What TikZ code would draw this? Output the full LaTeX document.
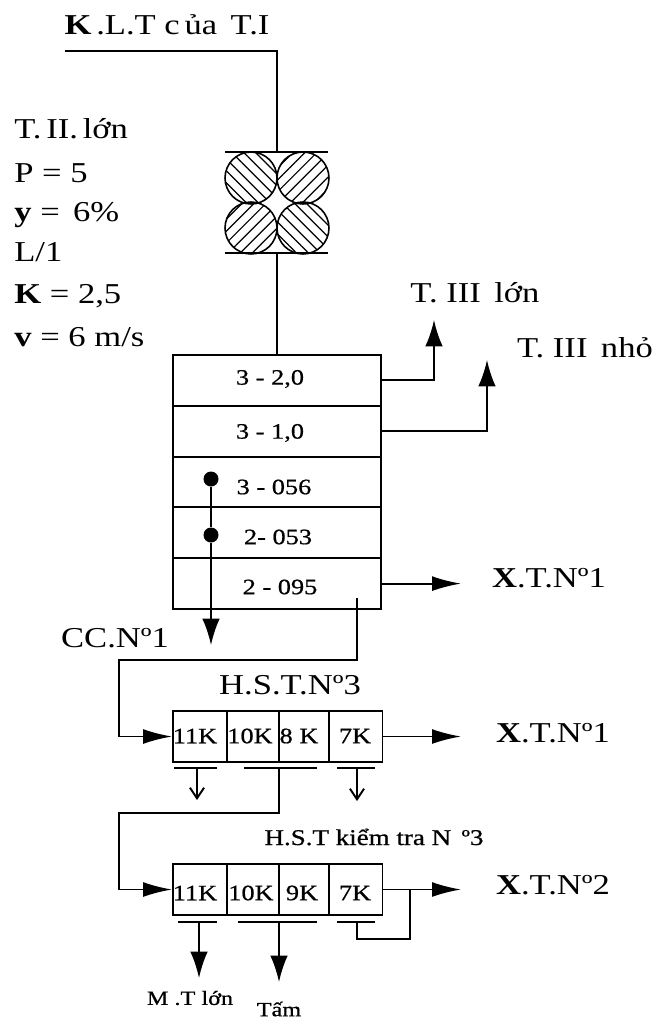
\documentclass[tikz,border=0pt]{standalone}
\usepackage{fontspec}
\setmainfont[FakeStretch=1.2]{Liberation Serif}
\newfontfamily\cellfont[FakeStretch=1.2,FakeBold=0.7]{Liberation Serif}
\usetikzlibrary{arrows.meta,patterns.meta}
\tikzset{
  flowarrow/.style={line width=1.1pt, -{Latex[length=15pt,width=10pt]}},
  sidearrow/.style={line width=1.1pt, -{Latex[length=16.5pt,width=8.5pt]}},
  openarrow/.style={line width=1.1pt, -{Straight Barb[length=6pt,width=8pt]}},
  flowline/.style={line width=1.1pt},
  barline/.style={line width=1.1pt},
  rowbox/.style={draw, line width=1.1pt, minimum width=4.16cm, minimum height=1.016cm, inner sep=0pt},
  cellbox/.style={draw, line width=1.1pt, minimum height=1.02cm, inner sep=0pt},
  rollerleft/.style={circle, draw, line width=.9pt, minimum size=1.04cm, inner sep=0pt,
    pattern={Lines[angle=-45,distance=4.8pt,line width=.7pt]}},
  rollerright/.style={circle, draw, line width=.9pt, minimum size=1.04cm, inner sep=0pt,
    pattern={Lines[angle=45,distance=4.8pt,line width=.7pt]}},
  dotmark/.style={circle, fill, minimum size=.3cm, inner sep=0pt},
  bigtext/.style={font=\fontsize{16.4}{18}\selectfont, inner sep=0pt},
  listtext/.style={bigtext, anchor=base west},
  celltext/.style={font=\cellfont\fontsize{12.5}{14}\selectfont, inner sep=0pt},
  smalltext/.style={font=\cellfont\fontsize{11.5}{13}\selectfont, inner sep=0pt}
}

\begin{document}
\begin{tikzpicture}[x=0.02cm, y=-0.02cm]
  \useasboundingbox (0,0) rectangle (656,1018);

  % Feed line and title
  \node[bigtext] (feedtxt) at (167,25) {\textbf{K}\,.L.T c\,ủa \,T.I};
  \coordinate (feedstart) at (65,51);
  \coordinate (rolltop) at (277,152);
  \coordinate (rollbot) at (277,253);
  \draw[flowline] (feedstart) -| (rolltop);

  % Roller pair
  \node[rollerleft] (rollnw) at (251,178) {};
  \node[rollerright] (rollne) at (303,178) {};
  \node[rollerright] (rollsw) at (251,228) {};
  \node[rollerleft] (rollse) at (303,228) {};
  \draw[barline] (225,152) -- (328,152);
  \draw[barline] (225,253) -- (328,253);

  % Machine data
  \node[listtext] (datag) at (14,138) {T.\,II.\,lớn};
  \node[listtext] (datah) at (14,182) {P = 5};
  \node[listtext] (datai) at (14,221) {\textbf{y} = \,6\%};
  \node[listtext] (dataj) at (14,261) {L/1};
  \node[listtext] (datak) at (14,303) {\textbf{K} = 2,5};
  \node[listtext] (datal) at (14,346) {\textbf{v} = 6 m/s};

  % Sieve stack
  \node[rowbox] (rowa) at (277,380.4) {};
  \node[rowbox] (rowb) at (277,431.2) {};
  \node[rowbox] (rowc) at (277,482) {};
  \node[rowbox] (rowd) at (277,532.8) {};
  \node[rowbox] (rowe) at (277,583.6) {};
  \node[celltext] (rowatxt) at (270,379) {3 - 2,0};
  \node[celltext] (rowbtxt) at (270,433) {3 - 1,0};
  \node[celltext] (rowctxt) at (274,487) {3 - 056};
  \node[celltext] (rowdtxt) at (278,537) {2- 053};
  \node[celltext] (rowetxt) at (280,587) {2 - 095};
  \draw[flowline] (rollbot) -- (rowa.north);

  % Outlets of the stack
  \node[bigtext] (tlarge) at (475,293) {T. III \,lớn};
  \node[bigtext] (tsmall) at (585,348) {T. III \,nhỏ};
  \coordinate (tlargeend) at (434,320);
  \coordinate (tsmallend) at (487,360);
  \draw[flowarrow] (rowa.east) -| (tlargeend);
  \draw[flowarrow] (rowb.east) -| (tsmallend);
  \node[bigtext] (xta) at (549,578) {\textbf{X}.T.Nº1};
  \coordinate (xtaend) at (461,583.6);
  \draw[sidearrow] (rowe.east) -- (xtaend);

  % Through fall
  \node[dotmark] (dota) at (211,479) {};
  \node[dotmark] (dotb) at (211,535) {};
  \coordinate (ccend) at (211,645);
  \draw[flowline] (dota) -- (dotb);
  \draw[flowarrow] (dotb) -- (ccend);
  \node[bigtext] (cctxt) at (115,638) {CC.Nº1};

  % First sifter
  \node[bigtext] (sifta) at (290,685) {H.S.T.Nº3};
  \node[cellbox, minimum width=1.08cm] (cella) at (200,736.5) {};
  \node[cellbox, minimum width=1.04cm] (cellb) at (253,736.5) {};
  \node[cellbox, minimum width=1.01cm] (cellc) at (304,736.5) {};
  \node[cellbox, minimum width=1.06cm] (celld) at (356,736.5) {};
  \node[celltext] (cellatxt) at (195,736) {11K};
  \node[celltext] (cellbtxt) at (250,736) {10K};
  \node[celltext] (cellctxt) at (299,736) {8 K};
  \node[celltext] (celldtxt) at (355,736) {7K};
  \coordinate (tapa) at (357,598);
  \coordinate (benda) at (119,660);
  \draw[sidearrow] (tapa) |- (benda) |- (cella.west);
  \node[bigtext] (xtb) at (553,733) {\textbf{X}.T.Nº1};
  \coordinate (xtbend) at (461,736.5);
  \draw[sidearrow] (celld.east) -- (xtbend);

  % Outlets under the first sifter
  \draw[barline] (174,768) -- (217,768);
  \draw[barline] (244,768) -- (317,768);
  \draw[barline] (337,768) -- (375,768);
  \coordinate (outa) at (197,768);
  \coordinate (outaend) at (197,800);
  \coordinate (outd) at (357,768);
  \coordinate (outdend) at (357,801);
  \draw[openarrow] (outa) -- (outaend);
  \draw[openarrow] (outd) -- (outdend);

  % Second sifter
  \node[smalltext, font=\cellfont\fontsize{12.8}{14}\selectfont] (siftb) at (374,837) {H.S.T kiểm tra N \,º3};
  \node[cellbox, minimum width=1.08cm] (celle) at (200,889.5) {};
  \node[cellbox, minimum width=1.04cm] (cellf) at (253,889.5) {};
  \node[cellbox, minimum width=1.01cm] (cellg) at (304,889.5) {};
  \node[cellbox, minimum width=1.06cm] (cellh) at (356,889.5) {};
  \node[celltext] (celletxt) at (195,893) {11K};
  \node[celltext] (cellftxt) at (251,893) {10K};
  \node[celltext] (cellgtxt) at (302,893) {9K};
  \node[celltext] (cellhtxt) at (355,893) {7K};
  \coordinate (outb) at (279,768);
  \coordinate (bendb) at (119,813);
  \draw[sidearrow] (outb) |- (bendb) |- (celle.west);
  \node[bigtext] (xtc) at (553,885) {\textbf{X}.T.Nº2};
  \coordinate (xtcend) at (461,889.5);
  \draw[sidearrow] (cellh.east) -- (xtcend);

  % Return of the last cell
  \coordinate (backa) at (410,889.5);
  \coordinate (backb) at (357,939);
  \coordinate (backc) at (357,922);
  \draw[flowline] (backa) |- (backb) -- (backc);

  % Outlets under the second sifter
  \draw[barline] (178,922) -- (217,922);
  \draw[barline] (238,922) -- (317,922);
  \draw[barline] (337,922) -- (375,922);
  \coordinate (oute) at (199,922);
  \coordinate (outeend) at (199,978);
  \coordinate (outf) at (279,922);
  \coordinate (outfend) at (279,982);
  \draw[flowarrow] (oute) -- (outeend);
  \draw[flowarrow] (outf) -- (outfend);
  \node[smalltext] (mttxt) at (190,998) {M .T lớn};
  \node[smalltext] (tamtxt) at (279,1009) {Tấm};
\end{tikzpicture}
\end{document}
